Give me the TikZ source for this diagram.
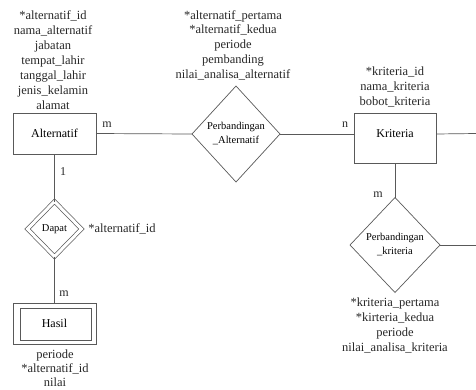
\documentclass[tikz,border=0pt]{standalone}
\usepackage{fontspec}
\setmainfont{Liberation Serif}
\usetikzlibrary{shapes.geometric}

\begin{document}
\begin{tikzpicture}[x=1pt,y=-1pt,
    line/.style={draw=black!65, line width=0.7pt},
    entity/.style={line, rectangle, outer sep=0pt, minimum width=83pt, minimum height=41pt, font=\fontsize{12}{14}\selectfont},
    relation/.style={line, diamond, align=center, inner sep=0pt, outer sep=0pt, font=\fontsize{10.5}{14}\selectfont},
    attr/.style={align=center, text=black!85, font=\fontsize{12.5}{15}\selectfont},
    card/.style={text=black!85, font=\fontsize{12}{14}\selectfont}]
    \clip (0,0) rectangle (476,389);

    \node[entity] (alternatif) at (54.5,133.5) {Alternatif};
    \node[entity, minimum width=82pt, minimum height=50pt, text depth=8.5pt] (kriteria) at (395,138) {Kriteria};
    \node[entity] (hasil) at (54.5,323.5) {Hasil};
    \node[line, rectangle, minimum width=71pt, minimum height=32pt] (hasildalam) at (55.5,324) {};

    \node[relation, minimum width=88pt, minimum height=96pt] (perbalt) at (236,134) {Perbandingan\\\_Alternatif};
    \node[relation, minimum width=90pt, minimum height=95pt] (perbkrit) at (395,245) {Perbandingan\\\_kriteria};
    \node[relation, double, double distance=3pt, minimum width=54pt, minimum height=55pt] (dapat) at (54.5,229) {Dapat};

    \coordinate (kanan1) at (476,133.5);
    \coordinate (kanan2) at (476,245);

    \draw[line] (alternatif.east) -- (perbalt.west);
    \draw[line] (perbalt.east) -- (perbalt.east -| kriteria.west);
    \draw[line] (perbalt.east -| kriteria.east) -- (kanan1);
    \draw[line] (alternatif) -- (dapat);
    \draw[line] (dapat) -- (hasil);
    \draw[line] (kriteria) -- (perbkrit);
    \draw[line] (perbkrit.east) -- (kanan2);

    \node[card] (c1) at (107,125) {m};
    \node[card] (c2) at (345,125) {n};
    \node[card] (c3) at (63,172) {1};
    \node[card] (c4) at (64,294) {m};
    \node[card] (c5) at (378,195) {m};

    \node[attr] (a1) at (53,60.5) {*alternatif\_id\\nama\_alternatif\\jabatan\\tempat\_lahir\\tanggal\_lahir\\jenis\_kelamin\\alamat};
    \node[attr, font=\fontsize{12.5}{14.75}\selectfont] (a2) at (233,45) {*alternatif\_pertama\\*alternatif\_kedua\\periode\\pembanding\\nilai\_analisa\_alternatif};
    \node[attr] (a3) at (395,86.5) {*kriteria\_id\\nama\_kriteria\\bobot\_kriteria};
    \node[attr] (a4) at (122,229) {*alternatif\_id};
    \node[attr, font=\fontsize{12.5}{14}\selectfont] (a5) at (55,368) {periode\\*alternatif\_id\\nilai};
    \node[attr] (a6) at (395,325) {*kriteria\_pertama\\*kirteria\_kedua\\periode\\nilai\_analisa\_kriteria};

  \end{tikzpicture}
\end{document}
